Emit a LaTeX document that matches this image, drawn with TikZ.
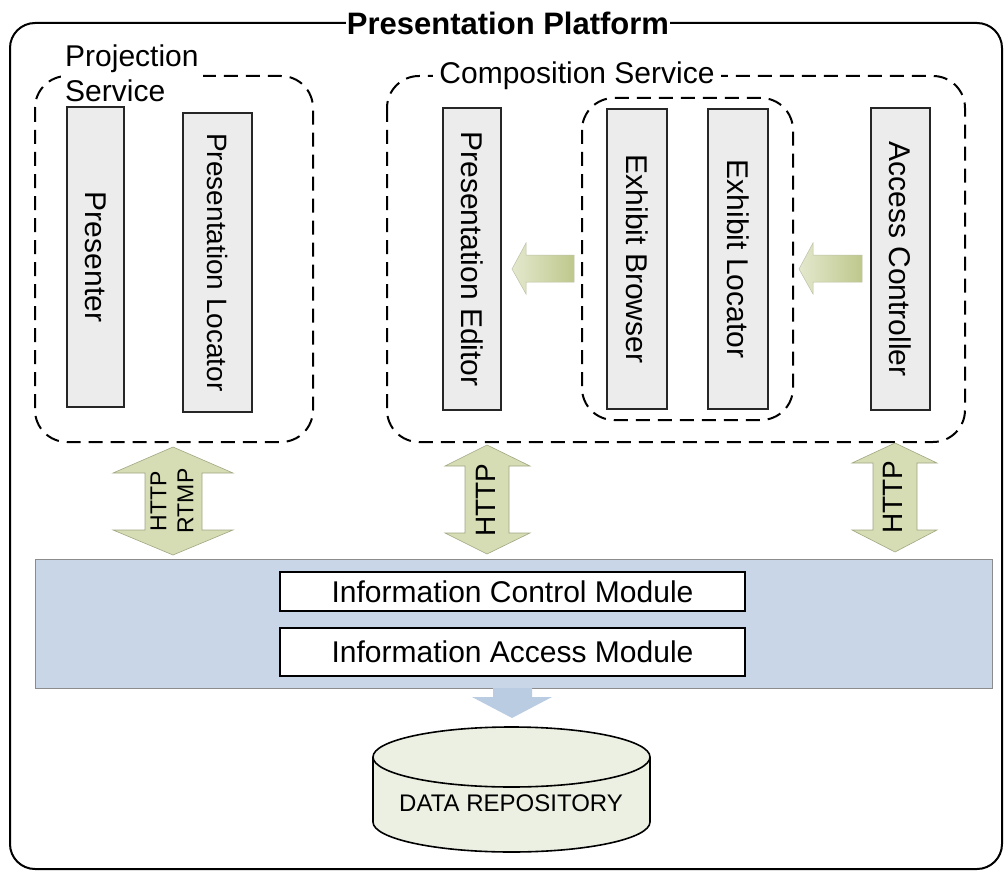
\documentclass[tikz,border=0pt]{standalone}
\usepackage{fontspec}
\setmainfont{Liberation Sans}
\definecolor{barfill}{RGB}{236,236,236}
\definecolor{greenA}{RGB}{214,220,180}
\definecolor{greenL}{RGB}{228,232,205}
\definecolor{greenD}{RGB}{190,200,140}
\definecolor{greenE}{RGB}{160,168,130}
\definecolor{bandblue}{RGB}{200,214,232}
\definecolor{arrowblue}{RGB}{186,204,226}
\definecolor{cylfill}{RGB}{236,240,226}
\begin{document}
\begin{tikzpicture}[x=1pt,y=-1pt,
  txt/.style={font=\fontsize{30}{35}\selectfont},
  bar/.style={draw=black!85, line width=1.6pt, fill=barfill, rotate=-90, inner sep=0pt,
    font=\fontsize{30}{35}\selectfont},
  svc/.style={draw=black, line width=2pt, dash pattern=on 14pt off 8pt, rounded corners=32pt},
  vlabel/.style={rotate=90, align=center, inner sep=0pt},
  module/.style={draw=black, line width=1.6pt, fill=white, inner sep=0pt,
    font=\fontsize{30}{35}\selectfont},
  garrow/.style={draw=greenE, line width=0.6pt, fill=greenA},
  harrow/.style={draw=greenE!70, line width=0.5pt, left color=greenL, right color=greenD},
]
\useasboundingbox (0,0) rectangle (1004,872);
\fill[white] (0,0) rectangle (1004,872);

% outer platform
\draw[line width=2pt, rounded corners=25pt] (10,23) rectangle (1002,869);
\node[fill=white, inner xsep=1pt, inner ysep=2pt, font=\fontsize{31}{35}\selectfont\bfseries] (title) at (508,23) {Presentation Platform};

% service boxes
\draw[svc] (35,76) rectangle (313,442);
\draw[svc] (387,76) rectangle (965,442);
\draw[svc] (582,98) rectangle (793,420);
\node[txt, fill=white, align=left, anchor=north west, inner xsep=4pt, inner ysep=0pt] (projlbl) at (61,45) {Projection\\Service};
\node[txt, fill=white, inner xsep=6pt, inner ysep=1pt] (complbl) at (577,76) {Composition Service};

% component bars
\node[bar, minimum width=300pt, minimum height=57pt] (pres) at (95.5,257) {Presenter};
\node[bar, minimum width=299pt, minimum height=69pt, font=\fontsize{28}{33}\selectfont] (ploc) at (217.5,262.5) {Presentation Locator};
\node[bar, minimum width=302pt, minimum height=58pt] (ped) at (472,259) {Presentation Editor};
\node[bar, minimum width=300pt, minimum height=60pt] (eb) at (637,259) {Exhibit Browser};
\node[bar, minimum width=300pt, minimum height=60pt] (el) at (738,259) {Exhibit Locator};
\node[bar, minimum width=302pt, minimum height=59pt] (ac) at (900.5,259) {Access Controller};

% horizontal block arrows
\draw[harrow] (574,255) -- (526,255) -- (526,243) -- (512,269) -- (526,294) -- (526,282) -- (574,282) -- cycle;
\draw[harrow] (862,255) -- (813,255) -- (813,243) -- (799,269) -- (813,294) -- (813,282) -- (862,282) -- cycle;

% vertical double arrows
\draw[garrow] (173,447) -- (233,473) -- (202,473) -- (202,530) -- (233,530) -- (173,555) -- (113,530) -- (145,530) -- (145,473) -- (113,473) -- cycle;
\node[vlabel, font=\fontsize{23}{27}\selectfont] (v1) at (172,501) {HTTP\\RTMP};
\draw[garrow] (487,445) -- (530,466) -- (509,466) -- (509,533) -- (530,533) -- (487,554) -- (445,533) -- (465,533) -- (465,466) -- (445,466) -- cycle;
\node[vlabel, font=\fontsize{28}{32}\selectfont] (v2) at (486,500) {HTTP};
\draw[garrow] (895,443) -- (937,463) -- (917,463) -- (917,530) -- (937,530) -- (895,552) -- (852,530) -- (873,530) -- (873,463) -- (852,463) -- cycle;
\node[vlabel, font=\fontsize{28}{32}\selectfont] (v3) at (893,497) {HTTP};

% information band
\draw[draw=black!45, line width=0.8pt, fill=bandblue] (35,559) rectangle (992,688);
\node[module, minimum width=465pt, minimum height=39pt] (icm) at (512.5,591.5) {Information Control Module};
\node[module, minimum width=465pt, minimum height=48pt] (iam) at (512.5,652) {Information Access Module};

% down arrow
\fill[arrowblue] (493,688) -- (493,697) -- (472,697) -- (512,718) -- (552,697) -- (532,697) -- (532,688) -- cycle;

% data repository cylinder
\draw[line width=1.6pt, fill=cylfill] (373,757) -- (373,822) arc[start angle=180, end angle=360, x radius=138.5pt, y radius=30pt] -- (650,757);
\draw[line width=1.6pt, fill=cylfill] (511.5,757) ellipse [x radius=138.5pt, y radius=30pt];
\node[font=\fontsize{24}{28}\selectfont, inner sep=0pt] (repo) at (511,803) {DATA REPOSITORY};
\end{tikzpicture}
\end{document}
